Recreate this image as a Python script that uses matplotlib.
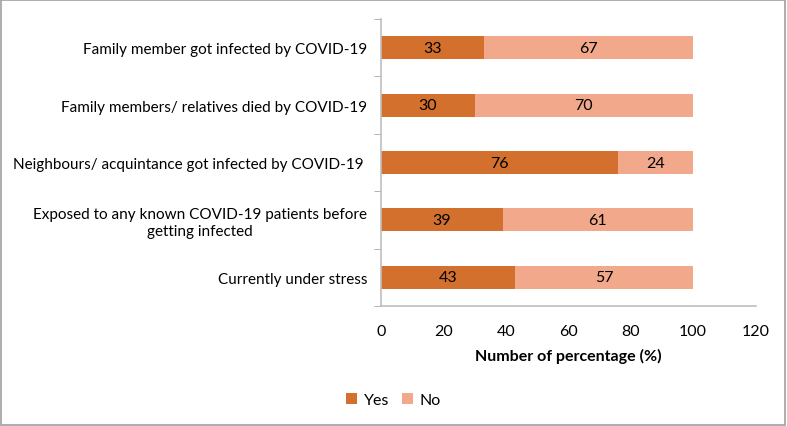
import numpy as np
import matplotlib.pyplot as plt
from matplotlib.patches import Rectangle

plt.rcParams['font.family'] = ['Lato', 'DejaVu Sans']

categories = ["Family member got infected by COVID-19",
              "Family members/ relatives died by COVID-19",
              "Neighbours/ acquintance got infected by COVID-19 ",
              "Exposed to any known COVID-19 patients before\ngetting infected",
              "Currently under stress"]
yes = [33, 30, 76, 39, 43]
no = [67, 70, 24, 61, 57]
xticks = [0, 20, 40, 60, 80, 100, 120]

c_yes = '#D3702D'
c_no = '#F2A88A'
fs = 11

fig = plt.figure(figsize=(7.87, 4.27), dpi=100)
ax = fig.add_axes([0.484, 0.281, 0.476, 0.672])

y = np.arange(len(categories))
h = 0.4
b1 = ax.barh(y, yes, height=h, color=c_yes, label='Yes')
b2 = ax.barh(y, no, left=yes, height=h, color=c_no, label='No')
for i in range(len(y)):
    ax.text(yes[i] / 2, y[i], str(yes[i]), ha='center', va='center', fontsize=fs + 0.5, color='black')
    ax.text(yes[i] + no[i] / 2, y[i], str(no[i]), ha='center', va='center', fontsize=fs + 0.5, color='black')

ax.set_ylim(len(categories) - 0.5, -0.5)
ax.set_xlim(0, 120)
ax.set_xticks(xticks)
ax.set_xticklabels([str(t) for t in xticks], fontsize=fs + 0.5)
ax.set_yticks(y)
ax.set_yticklabels(categories, fontsize=fs)
ax.set_yticks(np.arange(-0.5, len(categories), 1), minor=True)
ax.tick_params(axis='y', which='major', length=0, pad=10)
ax.tick_params(axis='y', which='minor', length=5, color='#A6A6A6')
ax.tick_params(axis='x', length=0, pad=13)
for lab in ax.get_yticklabels():
    lab.set_multialignment('center')

ax.spines['top'].set_visible(False)
ax.spines['right'].set_visible(False)
ax.spines['left'].set_color('#BFBFBF')
ax.spines['bottom'].set_color('#BFBFBF')
ax.spines['left'].set_linewidth(1.2)
ax.spines['bottom'].set_linewidth(1.2)

ax.set_xlabel('Number of percentage (%)', fontsize=fs + 0.5, fontweight='bold', labelpad=7)

fig.legend(handles=[b1, b2], loc='center', bbox_to_anchor=(0.5, 0.06), ncol=2,
           frameon=False, fontsize=fs + 0.5, handlelength=0.7, handleheight=0.7,
           handletextpad=0.4, columnspacing=0.8)

fig.patches.append(Rectangle((0.001, 0.002), 0.997, 0.996, transform=fig.transFigure,
                             fill=False, edgecolor='#A0A0A0', linewidth=1.2))

fig.savefig('out.png', dpi=100)
